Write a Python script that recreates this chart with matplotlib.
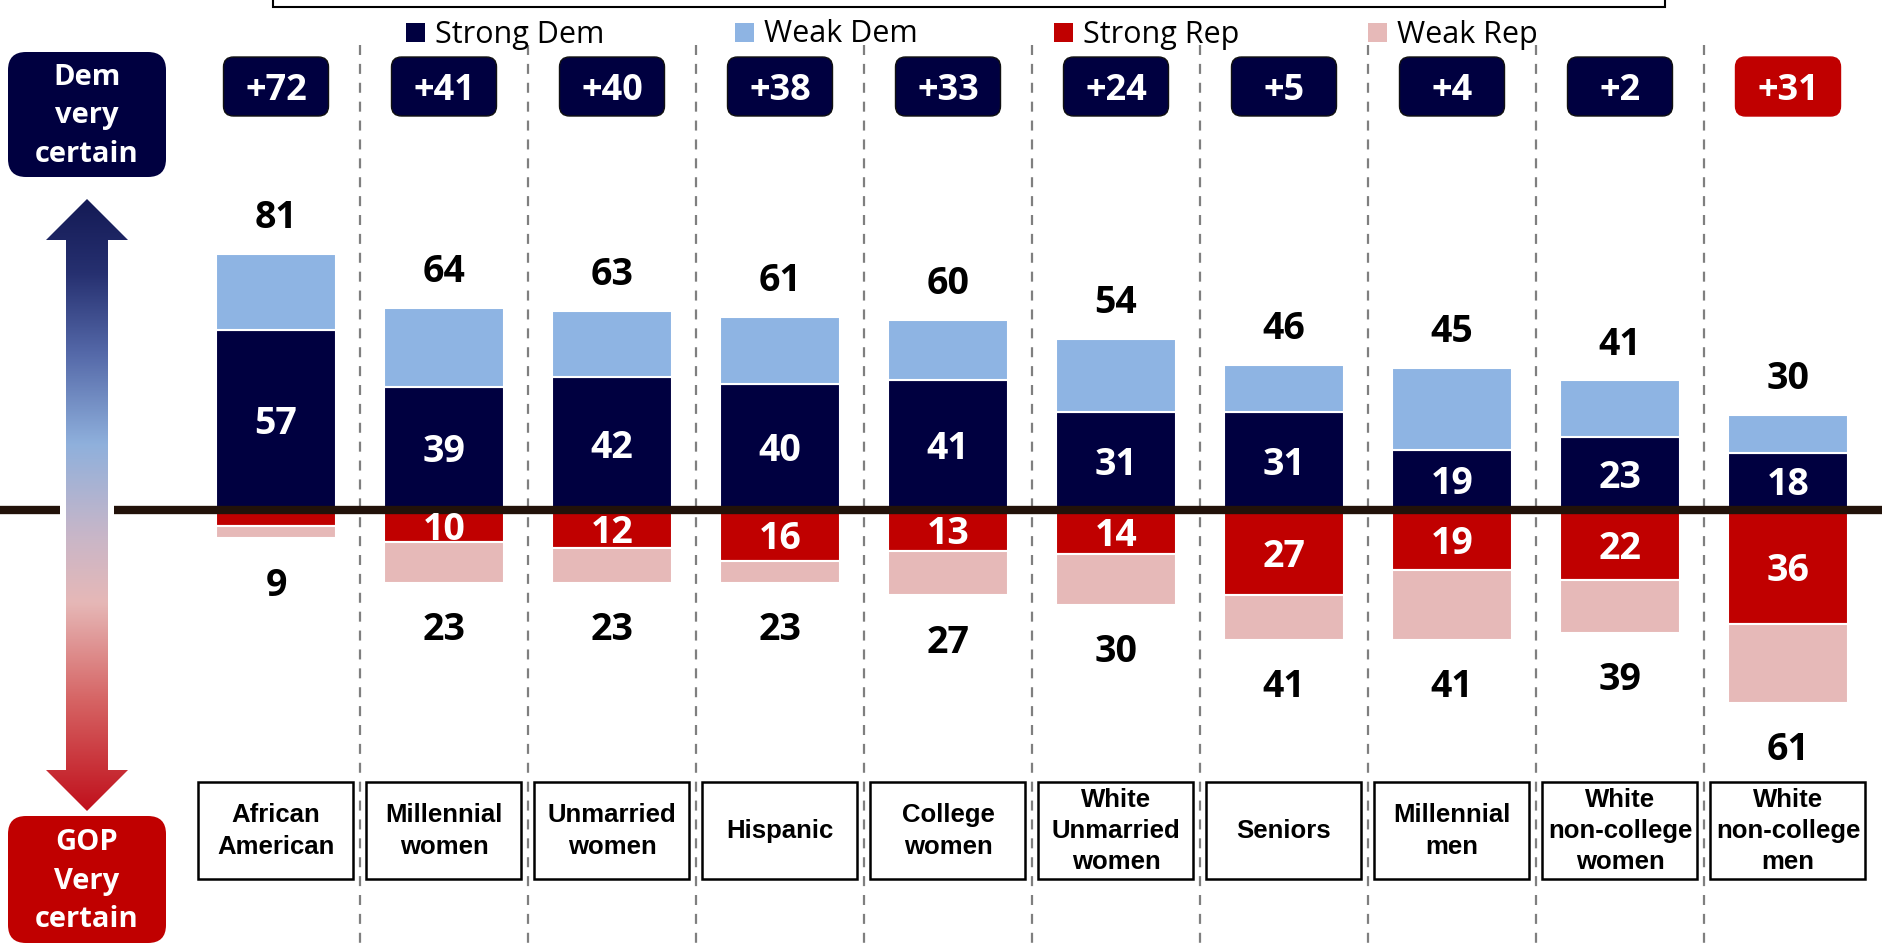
import numpy as np
import matplotlib
matplotlib.use("Agg")
import matplotlib.pyplot as plt
from matplotlib.patches import Rectangle, FancyBboxPatch, Polygon
from matplotlib.colors import LinearSegmentedColormap

# data
groups = ["African\nAmerican", "Millennial\nwomen", "Unmarried\nwomen", "Hispanic",
          "College\nwomen", "White\nUnmarried\nwomen", "Seniors", "Millennial\nmen",
          "White\nnon-college\nwomen", "White\nnon-college\nmen"]
strong_dem = [57, 39, 42, 40, 41, 31, 31, 19, 23, 18]
weak_dem = [24, 25, 21, 21, 19, 23, 15, 26, 18, 12]
strong_rep = [5, 10, 12, 16, 13, 14, 27, 19, 22, 36]
weak_rep = [4, 13, 11, 7, 14, 16, 14, 22, 17, 25]
dem_total = [81, 64, 63, 61, 60, 54, 46, 45, 41, 30]
rep_total = [9, 23, 23, 23, 27, 30, 41, 41, 39, 61]

NAVY = "#000040"
LBLUE = "#8EB4E3"
RED = "#C00000"
PINK = "#E6B9B8"
NUMFONT = "Open Sans"
LABFONT = "Liberation Sans"

# layout (pixels)
W, H = 1882, 944
X0, DX = 276, 168      # first bar centre, spacing
Y0, K = 510, 3.16      # zero line, px per point

fig = plt.figure(figsize=(W / 100, H / 100), dpi=100)
fig.patch.set_facecolor("white")

# pixel overlay for decoration
axp = fig.add_axes([0, 0, 1, 1])
axp.set_xlim(0, W)
axp.set_ylim(H, 0)
axp.axis("off")

# data axes
ax = fig.add_axes([0, 0, 1, 1])
ax.set_xlim(-X0 / DX, (W - X0) / DX)
ax.set_ylim(-(H - Y0) / K, Y0 / K)
ax.axis("off")
ax.patch.set_alpha(0)

x = np.arange(len(groups))
centers = X0 + DX * x

# separators
for cx in centers[:-1] + DX / 2:
    axp.plot([cx, cx], [45, H], color="#7f7f7f", lw=1.6,
             linestyle=(0, (4.5, 4)), zorder=0)

# top title box (cut off)
axp.add_patch(Rectangle((273, -30), 1665 - 273, 37, fill=False,
                        edgecolor="black", lw=1.5))

# legend
leg = [("Strong Dem", NAVY, 406), ("Weak Dem", LBLUE, 735),
       ("Strong Rep", RED, 1054), ("Weak Rep", PINK, 1368)]
for name, c, lx in leg:
    axp.add_patch(Rectangle((lx, 23), 19, 19, color=c, lw=0))
    axp.text(lx + 29, 42.5, name, fontsize=22, family=NUMFONT,
             ha="left", va="baseline", color="black")

# margin boxes
for i, cx in enumerate(centers):
    m = dem_total[i] - rep_total[i]
    c = NAVY if m >= 0 else RED
    ec = "#111111" if m >= 0 else RED
    axp.add_patch(FancyBboxPatch((cx - 52.5, 57), 105, 59,
                                 boxstyle="round,pad=0,rounding_size=10",
                                 facecolor=c, edgecolor=ec, lw=1))
    axp.text(cx, 100, "+%d" % abs(m), fontsize=26, fontweight="bold",
             family=NUMFONT, color="white", ha="center", va="baseline")

# category boxes
for i, cx in enumerate(centers):
    axp.add_patch(Rectangle((cx - 77.5, 782), 155, 97, facecolor="white",
                            edgecolor="black", lw=1.8))
    axp.text(cx, 831, groups[i], fontsize=18.5, fontweight="bold",
             family=LABFONT, ha="center", va="center", linespacing=1.38)

# left side boxes
axp.add_patch(FancyBboxPatch((8, 52), 158, 125,
                             boxstyle="round,pad=0,rounding_size=18",
                             facecolor=NAVY, edgecolor="none"))
axp.text(87, 116, "Dem\nvery\ncertain", fontsize=21, fontweight="bold",
         family=NUMFONT, color="white", ha="center", va="center",
         linespacing=1.45)
axp.add_patch(FancyBboxPatch((8, 816), 158, 127,
                             boxstyle="round,pad=0,rounding_size=18",
                             facecolor=RED, edgecolor="none"))
axp.text(87, 881, "GOP\nVery\ncertain", fontsize=21, fontweight="bold",
         family=NUMFONT, color="white", ha="center", va="center",
         linespacing=1.45)

# gradient double arrow
arrow = Polygon([(87, 199), (128, 240), (108, 240), (108, 770), (128, 770),
                 (87, 811), (46, 770), (66, 770), (66, 240), (46, 240)],
                closed=True, facecolor="none", edgecolor="none",
                transform=axp.transData)
axp.add_patch(arrow)
cmap = LinearSegmentedColormap.from_list(
    "arr", [(0.0, "#141a55"), (0.12, "#263070"), (0.25, "#5468a8"),
            (0.40, "#8fb0dc"), (0.55, "#c8b6c8"), (0.66, "#e6b8b7"),
            (0.82, "#d66464"), (1.0, "#c0101c")])
grad = np.linspace(0, 1, 256).reshape(-1, 1)
im = axp.imshow(grad, cmap=cmap, aspect="auto", extent=(46, 128, 811, 199),
                origin="upper", zorder=2)
im.set_clip_path(arrow)

# bars
bw = 120 / DX
kw = dict(width=bw, edgecolor="white", linewidth=1.5, zorder=3)
sd = np.array(strong_dem)
sr = np.array(strong_rep)
ax.bar(x, sd, color=NAVY, **kw)
ax.bar(x, weak_dem, bottom=sd, color=LBLUE, **kw)
ax.bar(x, -sr, color=RED, **kw)
ax.bar(x, -np.array(weak_rep), bottom=-sr, color=PINK, **kw)

# zero line with gap for arrow
xl = ax.get_xlim()
ax.hlines(0, xl[0], (60 - X0) / DX, color="#22120a", lw=6, zorder=5)
ax.hlines(0, (114 - X0) / DX, xl[1], color="#22120a", lw=6, zorder=5)

# value labels
nk = dict(fontsize=27, fontweight="bold", family=NUMFONT, ha="center",
          va="baseline", zorder=6)
half = 4.4
for i in x:
    ax.text(i, dem_total[i] + 8.2, str(dem_total[i]), color="black", **nk)
    ax.text(i, -rep_total[i] - 18.1, str(rep_total[i]), color="black", **nk)
    ax.text(i, strong_dem[i] / 2 - half, str(strong_dem[i]), color="white", **nk)
    if strong_rep[i] >= 10:
        ax.text(i, -strong_rep[i] / 2 - half, str(strong_rep[i]),
                color="white", **nk)

fig.savefig("out.png", dpi=100)
